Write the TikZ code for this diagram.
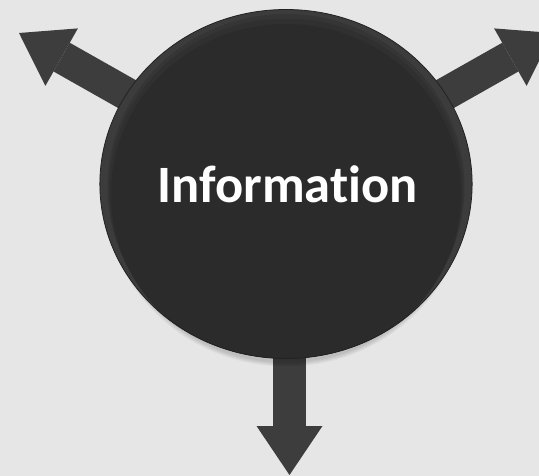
\documentclass[tikz,border=0pt]{standalone}
\usepackage{fontspec}
\setmainfont{Carlito}[RawFeature=-liga]
\usetikzlibrary{shapes.geometric,arrows.meta}
\definecolor{bg}{HTML}{E6E6E6}
\definecolor{arrowcol}{HTML}{3D3D3D}
\definecolor{rimA}{HTML}{3C3C3C}
\definecolor{rimB}{HTML}{353535}
\definecolor{rimC}{HTML}{303030}
\definecolor{disk}{HTML}{2B2B2B}
\definecolor{diskedge}{HTML}{222222}
\tikzset{
  bigarrow/.style={draw=arrowcol, line width=33pt,
    -{Triangle[width=66pt,length=49pt,line width=0pt]}},
  shadowring/.style={fill=black, opacity=0.035},
  disknode/.style={ellipse, minimum width=360pt, minimum height=349pt,
    inner sep=0pt, fill=rimA, draw=diskedge, line width=0.8pt,
    text=white, font=\bfseries\fontsize{52.5}{60}\selectfont,
    path picture={
      \fill[rimB] ([yshift=-3pt]path picture bounding box.center) ellipse (178.5pt and 173pt);
      \fill[rimC] ([yshift=-6pt]path picture bounding box.center) ellipse (177pt and 171.5pt);
      \fill[disk] ([yshift=-10pt]path picture bounding box.center) ellipse (175pt and 170pt);
    }},
}
\begin{document}
\begin{tikzpicture}[x=1pt,y=-1pt]
\fill[bg] (0,0) rectangle (539,476);
\useasboundingbox (0,0) rectangle (539,476);
\clip (0,0) rectangle (539,476);
\coordinate (c) at (286,184);
\coordinate (cb) at (289.5,184);
\coordinate (tipL) at (19,33);
\coordinate (tipR) at (553,33);
\coordinate (tipB) at (289.5,475);
\draw[bigarrow] (c) -- (tipL);
\draw[bigarrow] (c) -- (tipR);
\draw[bigarrow] (cb) -- (tipB);
\foreach \d in {1,2,3,4,5}
  \fill[shadowring] ([yshift=-4pt]c) ellipse ({178+\d} and {173.5+\d});
\node[disknode] (info) at (c) {\hspace*{3pt}Informat\kern0pt ion};
\end{tikzpicture}
\end{document}
